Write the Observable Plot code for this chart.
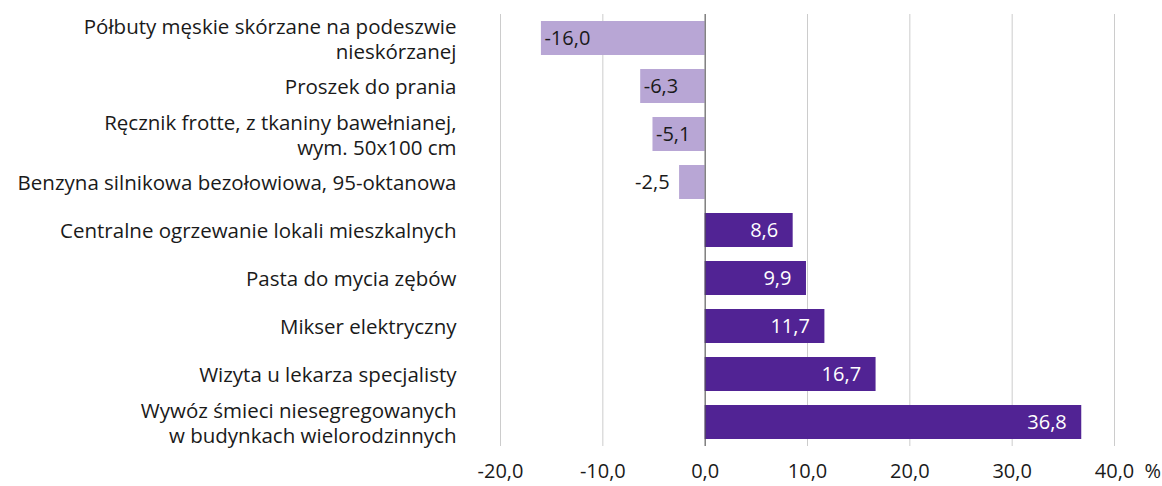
<!DOCTYPE html>
<html><head><meta charset="utf-8">
<script src="https://cdn.jsdelivr.net/npm/d3@7"></script>
<script src="https://cdn.jsdelivr.net/npm/@observablehq/plot@0.6"></script>
<style>body{margin:0;background:#fff;} #chart svg{display:block;}</style>
</head><body><div id="chart"></div>
<script>
const categories = [
  "Półbuty męskie skórzane na podeszwie\nnieskórzanej",
  "Proszek do prania",
  "Ręcznik frotte, z tkaniny bawełnianej,\nwym. 50x100 cm",
  "Benzyna silnikowa bezołowiowa, 95-oktanowa",
  "Centralne ogrzewanie lokali mieszkalnych",
  "Pasta do mycia zębów",
  "Mikser elektryczny",
  "Wizyta u lekarza specjalisty",
  "Wywóz śmieci niesegregowanych\nw budynkach wielorodzinnych"
];
const values = [-16.0, -6.3, -5.1, -2.5, 8.6, 9.9, 11.7, 16.7, 36.8];
const xTicks = [-20, -10, 0, 10, 20, 30, 40];
const unitLabel = "%";

const data = categories.map((c, i) => ({category: c, value: values[i]}));
const fmt = v => v.toFixed(1).replace(".", ",");
const light = "#b8a6d5";
const dark = "#512394";
const font = "'Open Sans', 'Noto Sans', sans-serif";

const chart = Plot.plot({
  width: 1162,
  height: 486,
  marginLeft: 500,
  marginRight: 48,
  marginTop: 14,
  marginBottom: 40,
  style: {fontFamily: font, fontSize: "20px", color: "#1a1a1a", background: "#fff"},
  x: {domain: [-20, 40], label: null},
  y: {domain: categories, paddingInner: 0.29, paddingOuter: 0.14, label: null},
  marks: [
    Plot.gridX(xTicks, {stroke: "#cccccc", strokeOpacity: 1, strokeWidth: 1}),
    Plot.barX(data.filter(d => d.value < 0), {x: "value", y: "category", fill: light}),
    Plot.barX(data.filter(d => d.value >= 0), {x: "value", y: "category", fill: dark}),
    Plot.ruleX([0], {stroke: "#555", strokeWidth: 1}),
    Plot.text(data.filter(d => d.value < 0 && Math.abs(d.value) >= 4), {x: "value", y: "category", text: d => fmt(d.value), textAnchor: "start", dx: 3, fill: "#1a1a1a", fontSize: 20}),
    Plot.text(data.filter(d => d.value < 0 && Math.abs(d.value) < 4), {x: "value", y: "category", text: d => fmt(d.value), textAnchor: "end", dx: -10, fill: "#1a1a1a", fontSize: 20}),
    Plot.text(data.filter(d => d.value >= 0), {x: "value", y: "category", text: d => fmt(d.value), textAnchor: "end", dx: -15, fill: "#ffffff", fontSize: 20}),
    Plot.axisY({tickSize: 0, tickPadding: 44, fontSize: 20.5, lineHeight: 1.2, label: null}),
    Plot.axisX(xTicks, {tickSize: 0, tickPadding: 17, fontSize: 20, tickFormat: fmt, label: null}),
    Plot.text([40], {x: d => d, frameAnchor: "bottom", text: () => unitLabel, textAnchor: "start", lineAnchor: "top", dx: 30, dy: 17, fontSize: 20})
  ]
});
document.getElementById("chart").appendChild(chart);
</script>
</body></html>
